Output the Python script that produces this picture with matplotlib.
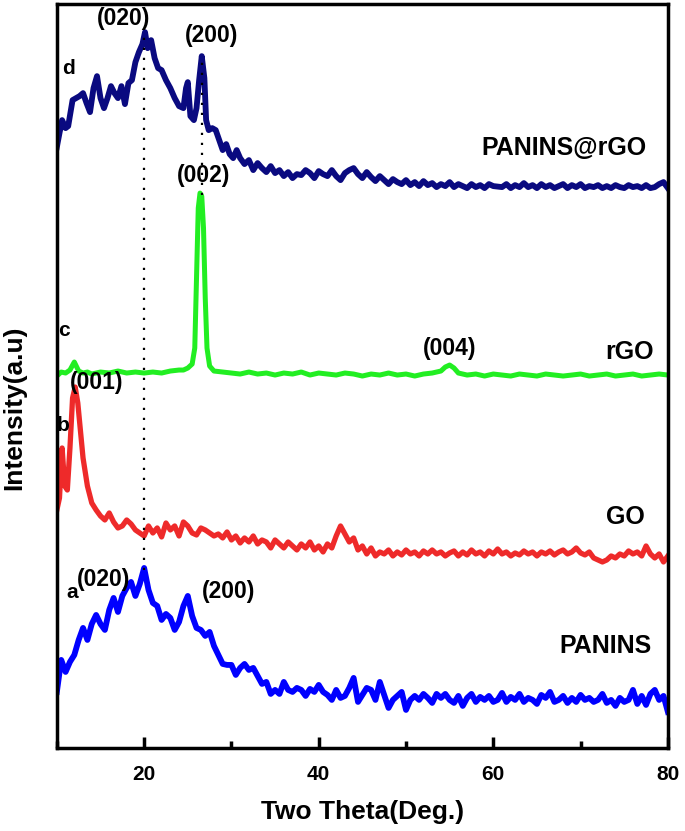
import numpy as np
import matplotlib
matplotlib.use("Agg")
import matplotlib.pyplot as plt
from matplotlib.ticker import FixedLocator

plt.rcParams['font.family'] = ['Liberation Sans', 'DejaVu Sans']

# ---- data (2theta, stacked intensity in a.u.) ----
tt_a = np.arange(10, 80.01, 0.5)
I_a = [56, 88, 76, 86, 93, 108, 120, 108, 124, 133, 124, 118, 138, 150, 136, 152,
       160, 166, 152, 164, 180, 158, 145, 142, 128, 134, 130, 118, 126, 142, 152, 132,
       120, 118, 112, 116, 102, 93, 84, 83, 83, 73, 80, 84, 78, 80, 72, 64,
       66, 54, 58, 54, 66, 58, 56, 60, 58, 52, 59, 56, 63, 56, 53, 48,
       58, 50, 52, 60, 70, 46, 53, 60, 58, 48, 66, 53, 40, 48, 52, 56,
       38, 48, 52, 48, 54, 50, 45, 54, 50, 54, 48, 45, 52, 42, 50, 54,
       46, 51, 48, 52, 46, 48, 55, 46, 51, 48, 54, 46, 50, 48, 44, 53,
       50, 56, 46, 48, 52, 45, 50, 46, 53, 48, 50, 46, 48, 54, 45, 48,
       42, 50, 46, 48, 58, 44, 52, 43, 54, 58, 48, 52, 36]

tt_b = [10.0, 10.3, 10.6, 10.9, 11.2, 11.5, 11.8, 12.1, 12.4, 12.7, 13.0, 13.5, 14.0,
        14.5, 15.0, 15.5, 16.0, 16.5, 17.0, 17.5, 18.0, 18.5, 19.0, 19.5, 20.0, 20.5,
        21.0, 21.5, 22.0, 22.5, 23.0, 23.5, 24.0, 24.5, 25.0, 25.5, 26.0, 26.5, 27.0,
        27.5, 28.0, 28.5, 29.0, 29.5, 30.0, 30.5, 31.0, 31.5, 32.0, 32.5, 33.0, 33.5,
        34.0, 34.5, 35.0, 35.5, 36.0, 36.5, 37.0, 37.5, 38.0, 38.5, 39.0, 39.5, 40.0,
        40.5, 41.0, 41.5, 42.0, 42.5, 43.0, 43.5, 44.0, 44.5, 45.0, 45.5, 46.0, 46.5,
        47.0, 47.5, 48.0, 48.5, 49.0, 49.5, 50.0, 50.5, 51.0, 51.5, 52.0, 52.5, 53.0,
        53.5, 54.0, 54.5, 55.0, 55.5, 56.0, 56.5, 57.0, 57.5, 58.0, 58.5, 59.0, 59.5,
        60.0, 60.5, 61.0, 61.5, 62.0, 62.5, 63.0, 63.5, 64.0, 64.5, 65.0, 65.5, 66.0,
        66.5, 67.0, 67.5, 68.0, 68.5, 69.0, 69.5, 70.0, 70.5, 71.0, 71.5, 72.0, 72.5,
        73.0, 73.5, 74.0, 74.5, 75.0, 75.5, 76.0, 76.5, 77.0, 77.5, 78.0, 78.5, 79.0,
        79.5, 80.0]
I_b = [238, 250, 300, 262, 258, 300, 350, 361, 345, 318, 290, 262, 245,
       238, 232, 228, 235, 226, 220, 222, 228, 224, 218, 215, 212, 222,
       215, 220, 211, 225, 218, 222, 212, 226, 222, 215, 213, 220, 218,
       215, 212, 214, 210, 216, 208, 212, 205, 210, 206, 212, 204, 208,
       206, 200, 208, 204, 200, 206, 202, 198, 204, 200, 206, 198, 202,
       196, 204, 200, 212, 222, 214, 206, 210, 198, 202, 194, 200, 192,
       196, 194, 198, 192, 196, 193, 198, 194, 196, 192, 197, 194, 198,
       194, 196, 192, 195, 197, 192, 196, 193, 198, 194, 196, 192, 197,
       194, 199, 194, 196, 192, 195, 193, 197, 194, 196, 192, 196, 194,
       197, 193, 196, 198, 194, 196, 200, 195, 193, 196, 190, 188, 186,
       188, 192, 190, 194, 192, 197, 194, 196, 192, 202, 194, 190, 194,
       186, 192]

tt_c = [10.0, 10.5, 11.0, 11.5, 12.0, 12.5, 13.0, 13.5, 14.0, 15.0, 16.0, 17.0, 18.0,
        19.0, 20.0, 21.0, 22.0, 23.0, 24.0, 24.5, 25.0, 25.5, 25.8, 26.0, 26.2, 26.4,
        26.6, 26.8, 27.0, 27.2, 27.5, 28.0, 29.0, 30.0, 31.0, 32.0, 33.0, 34.0, 35.0,
        36.0, 37.0, 38.0, 39.0, 40.0, 41.0, 42.0, 43.0, 44.0, 45.0, 46.0, 47.0, 48.0,
        49.0, 50.0, 51.0, 52.0, 53.0, 54.0, 54.5, 55.0, 55.5, 56.0, 57.0, 58.0, 59.0,
        60.0, 61.0, 62.0, 63.0, 64.0, 65.0, 66.0, 67.0, 68.0, 69.0, 70.0, 71.0, 72.0,
        73.0, 74.0, 75.0, 76.0, 77.0, 78.0, 79.0, 80.0]
I_c = [372, 376, 375, 378, 386, 377, 375, 376, 374, 376, 375, 377, 375,
       376, 375, 376, 375, 377, 378, 378, 380, 384, 400, 470, 540, 555,
       552, 520, 450, 400, 382, 377, 376, 375, 374, 376, 374, 375, 373,
       375, 374, 376, 373, 375, 374, 373, 375, 374, 372, 374, 373, 375,
       373, 374, 372, 374, 375, 377, 381, 383, 380, 375, 373, 374, 372,
       374, 373, 372, 374, 373, 372, 374, 373, 372, 373, 374, 372, 373,
       374, 372, 373, 374, 372, 373, 374, 373]

tt_d = [10.0, 10.3, 10.6, 11.0, 11.3, 11.8, 12.2, 12.6, 13.0, 13.4, 13.8, 14.2, 14.6,
        15.0, 15.4, 15.8, 16.2, 16.6, 17.0, 17.4, 17.8, 18.2, 18.6, 19.0, 19.4, 19.8,
        20.1, 20.4, 20.8, 21.2, 21.6, 22.0, 22.5, 23.0, 23.5, 24.0, 24.5, 24.8, 25.0,
        25.3, 25.7, 26.0, 26.3, 26.6, 26.9, 27.1, 27.4, 27.8, 28.2, 28.6, 29.0, 29.4,
        29.8, 30.2, 30.6, 31.0, 31.5, 32.0, 32.5, 33.0, 33.5, 34.0, 34.5, 35.0, 35.5,
        36.0, 36.5, 37.0, 37.5, 38.0, 38.5, 39.0, 39.5, 40.0, 40.5, 41.0, 41.5, 42.0,
        42.5, 43.0, 43.5, 44.0, 44.5, 45.0, 45.5, 46.0, 46.5, 47.0, 47.5, 48.0, 48.5,
        49.0, 49.5, 50.0, 50.5, 51.0, 51.5, 52.0, 52.5, 53.0, 53.5, 54.0, 54.5, 55.0,
        55.5, 56.0, 56.5, 57.0, 57.5, 58.0, 58.5, 59.0, 59.5, 60.0, 61.0, 61.5, 62.0,
        62.5, 63.0, 63.5, 64.0, 64.5, 65.0, 65.5, 66.0, 66.5, 67.0, 67.5, 68.0, 68.5,
        69.0, 69.5, 70.0, 70.5, 71.0, 71.5, 72.0, 72.5, 73.0, 73.5, 74.0, 74.5, 75.0,
        75.5, 76.0, 76.5, 77.0, 77.5, 78.0, 78.5, 79.0, 79.5, 80.0]
I_d = [601, 615, 628, 620, 622, 648, 650, 652, 655, 645, 636, 660, 672,
       650, 640, 650, 662, 655, 650, 662, 644, 665, 668, 686, 696, 704,
       716, 700, 708, 690, 680, 678, 668, 660, 650, 642, 640, 660, 666,
       632, 628, 640, 668, 692, 670, 628, 618, 620, 618, 608, 598, 604,
       594, 590, 598, 590, 584, 588, 578, 585, 580, 576, 582, 575, 578,
       572, 576, 570, 574, 573, 578, 575, 570, 577, 574, 572, 578, 572,
       568, 575, 578, 580, 574, 570, 576, 571, 567, 572, 568, 564, 569,
       566, 564, 568, 563, 566, 562, 567, 563, 565, 561, 564, 562, 566,
       561, 564, 562, 560, 564, 561, 563, 560, 564, 562, 561, 564, 560,
       563, 561, 565, 561, 563, 560, 564, 561, 563, 560, 562, 564, 560,
       563, 561, 564, 560, 562, 561, 563, 560, 562, 560, 563, 561, 560,
       563, 561, 562, 560, 563, 560, 561, 564, 566, 560]

fig = plt.figure(figsize=(6.85, 8.31), dpi=100)
ax = fig.add_axes([0.083, 0.1, 0.892, 0.895])

ax.plot(tt_a, I_a, color='#0000ff', lw=4.2, solid_joinstyle='round')
ax.plot(tt_b, I_b, color='#ee2a2a', lw=3.8, solid_joinstyle='round')
ax.plot(tt_c, I_c, color='#22ee22', lw=3.6, solid_joinstyle='round')
ax.plot(tt_d, I_d, color='#0a0a80', lw=4.2, solid_joinstyle='round')

# dotted guide lines
ax.plot([20, 20], [178, 713], color='black', lw=1.6, ls=(0, (1, 3.5)))
ax.plot([26.6, 26.6], [553, 688], color='black', lw=1.6, ls=(0, (1, 3.5)))

pk = dict(fontsize=16.5, fontweight='bold', ha='center', va='center')
ax.text(17.6, 730, '(020)', **pk)
ax.text(27.75, 713, '(200)', **pk)
ax.text(26.8, 573, '(002)', **pk)
ax.text(55.0, 400, '(004)', **pk)
ax.text(14.6, 366, '(001)', **pk)
ax.text(15.4, 168, '(020)', **pk)
ax.text(29.7, 156, '(200)', **pk)

lt = dict(fontsize=15, fontweight='bold', ha='center', va='center')
ax.text(11.3, 680, 'd', **lt)
ax.text(10.8, 418, 'c', **lt)
ax.text(10.7, 323, 'b', **lt)
ax.text(11.8, 155, 'a', **lt)

nm = dict(fontsize=18, fontweight='bold', ha='center', va='center')
ax.text(68.1, 600, 'PANINS@rGO', **nm)
ax.text(75.6, 396, 'rGO', **nm)
ax.text(75.1, 231, 'GO', **nm)
ax.text(72.9, 102, 'PANINS', **nm)

ax.set_xlim(10, 80)
ax.set_ylim(0, 744)
ax.xaxis.set_major_locator(FixedLocator([20, 40, 60, 80]))
ax.xaxis.set_minor_locator(FixedLocator([10, 30, 50, 70]))
ax.set_yticks([])
ax.tick_params(axis='x', which='major', direction='in', length=8, width=2.5,
               labelsize=15, pad=12)
ax.tick_params(axis='x', which='minor', direction='in', length=5, width=2.5)
for lab in ax.get_xticklabels():
    lab.set_fontweight('bold')
for sp in ax.spines.values():
    sp.set_linewidth(2.5)

ax.set_xlabel('Two Theta(Deg.)', fontsize=19, fontweight='bold', labelpad=12)
ax.set_ylabel('Intensity(a.u)', fontsize=19, fontweight='bold')
ax.yaxis.set_label_coords(-0.05, 0.457)

fig.savefig('out.png', dpi=100)
